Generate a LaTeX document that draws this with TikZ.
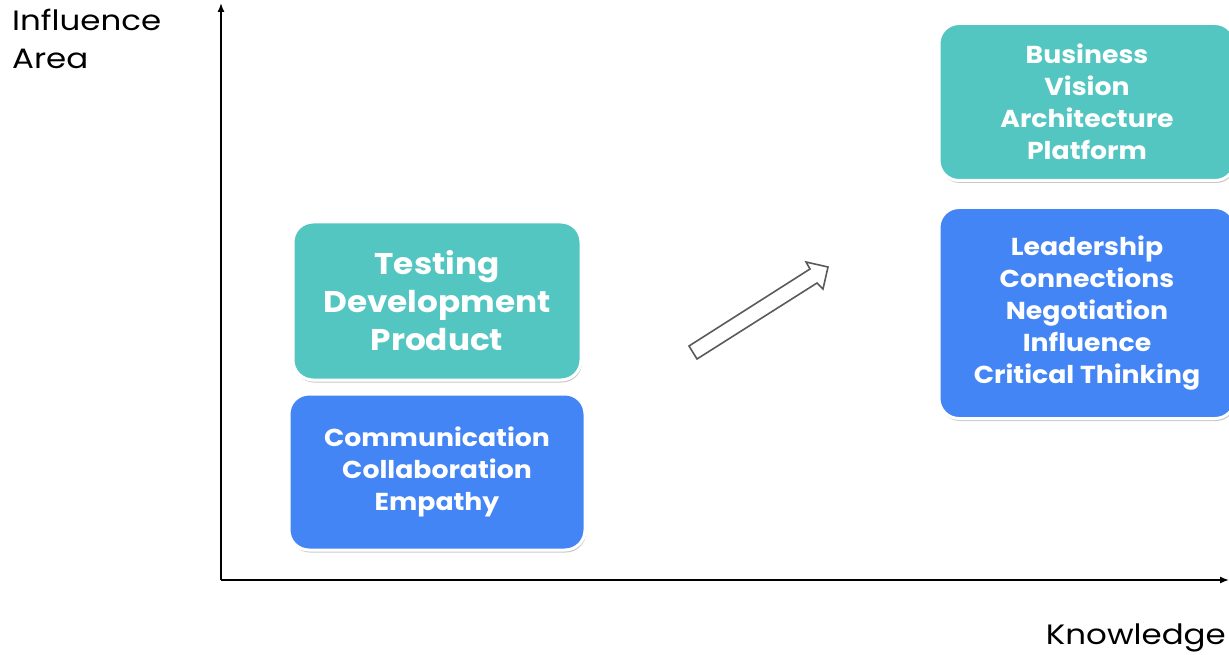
\documentclass[tikz,border=0pt]{standalone}
\usepackage{fontspec}
\setmainfont{Poppins}[FakeStretch=1.09]
\newfontfamily\axfont{Poppins}[FakeStretch=1.16]
\usetikzlibrary{arrows.meta,shadows}
\definecolor{tealbox}{HTML}{53C6C2}
\definecolor{bluebox}{HTML}{4385F4}
\definecolor{arrowgray}{HTML}{5A5A5A}
\tikzset{
  skillbox/.style={rounded corners=20pt, draw=white, line width=3pt, inner sep=0pt,
    text=white, align=center, font=\bfseries,
    drop shadow={shadow xshift=1pt, shadow yshift=-2.5pt, opacity=0.35, fill=black!60}},
  axis/.style={line width=1.4pt, -{Latex[length=9pt,width=7pt]}},
  axlabel/.style={inner sep=0pt, align=left, font=\axfont\fontsize{28}{38}\selectfont}
}
\begin{document}
\begin{tikzpicture}[x=1pt,y=-1pt]
\useasboundingbox (0,0) rectangle (1229,655);
\fill[white] (0,0) rectangle (1229,655);
% axes
\coordinate (o) at (221,580);
\coordinate (ytop) at (221,3);
\coordinate (xend) at (1229,580);
\draw[axis] (o) -- (ytop);
\draw[axis] (o) -- (xend);
\node[axlabel, anchor=north west] (ylab) at (12,9) {Influence\\Area};
\node[axlabel, anchor=north east] (xlab) at (1226,624) {Knowledge};
% boxes
\node[skillbox, fill=tealbox, minimum width=288pt, minimum height=158pt,
  font=\bfseries\fontsize{30}{38}\selectfont] (tdp) at (437,301)
  {Testing\\Development\\Product};
\node[skillbox, fill=bluebox, minimum width=296pt, minimum height=156pt,
  font=\bfseries\fontsize{24.5}{32}\selectfont] (cce) at (437,472)
  {Communication\\Collaboration\\Empathy};
\node[skillbox, fill=tealbox, minimum width=296pt, minimum height=157pt,
  font=\bfseries\fontsize{24.5}{32}\selectfont] (bvap) at (1087,102)
  {Business\\Vision\\Architecture\\Platform};
\node[skillbox, fill=bluebox, minimum width=296pt, minimum height=211pt,
  font=\bfseries\fontsize{24.5}{32}\selectfont] (lcnic) at (1087,313)
  {Leadership\\Connections\\Negotiation\\Influence\\Critical Thinking};
% hollow arrow
\draw[arrowgray, line width=1.6pt, line join=miter, fill=white]
  (689,346) -- (810,269) -- (806,262) -- (828,267) -- (823,289) -- (817,283) -- (697,359) -- cycle;
\end{tikzpicture}
\end{document}
